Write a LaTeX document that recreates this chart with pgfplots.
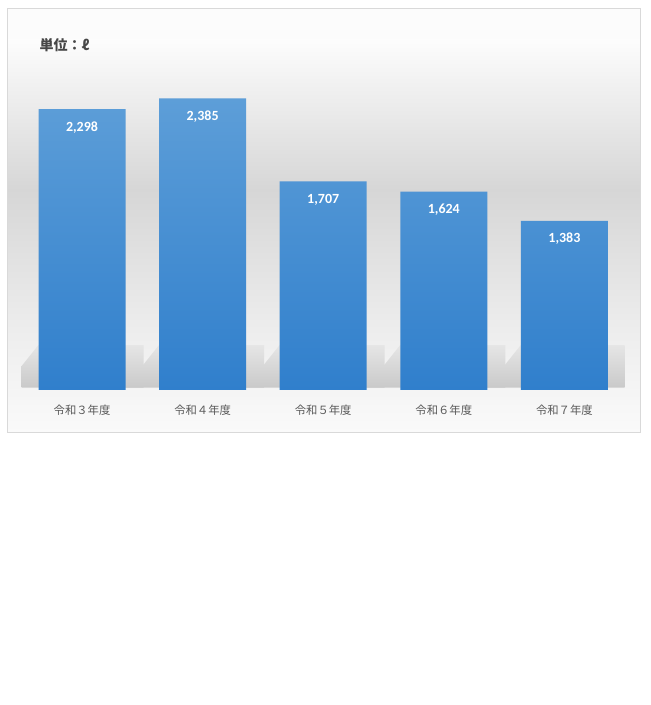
\documentclass[border=0pt]{standalone}
\usepackage{fontspec}
\setmainfont{Carlito}
\newfontfamily\jp{Noto Sans CJK JP}
\usepackage{pgfplots}
\pgfplotsset{compat=1.18}

\definecolor{bartop}{RGB}{93,158,216}
\definecolor{barbot}{RGB}{48,127,204}

\begin{document}
\begin{tikzpicture}[x=0.75pt,y=0.75pt]
\path[use as bounding box] (0,0) rectangle (650,705);
\fill[white] (0,0) rectangle (650,705);
% chart area background
\fill[white!99!black] (7,665) rectangle (640,697);
\shade[top color=white!99!black, bottom color=black!16] (7,515) rectangle (640,665);
\shade[top color=black!16, bottom color=black!7] (7,375) rectangle (640,515.2);
\shade[top color=black!7, bottom color=white!98!black] (7,273) rectangle (640,375.2);
\draw[black!15] (7,273) rectangle (640,697);
\coordinate (axorigin) at (21.7,315);

\begin{axis}[
    at={(axorigin)}, anchor=south west,
    scale only axis, width=452.25pt, height=247.5pt,
    xmin=-0.5, xmax=4.5, ymin=0, ymax=2700,
    axis line style={draw=none},
    ytick=\empty,
    xtick={0,1,2,3,4},
    xticklabels={令和３年度,令和４年度,令和５年度,令和６年度,令和７年度},
    major tick length=0pt,
    xticklabel style={anchor=center, yshift=-15pt, text=black!65,
        font=\jp\fontsize{8.5}{10}\selectfont},
    /pgf/number format/assume math mode=true,
  ]
  % shadows
  \addplot[draw=none, top color=black!10, bottom color=black!21, forget plot]
    coordinates {(-0.643,20) (0.51,20) (0.51,368) (-0.361,368)};
  \addplot[draw=none, top color=black!10, bottom color=black!21, forget plot]
    coordinates {(0.357,20) (1.51,20) (1.51,368) (0.639,368)};
  \addplot[draw=none, top color=black!10, bottom color=black!21, forget plot]
    coordinates {(1.357,20) (2.51,20) (2.51,368) (1.639,368)};
  \addplot[draw=none, top color=black!10, bottom color=black!21, forget plot]
    coordinates {(2.357,20) (3.51,20) (3.51,368) (2.639,368)};
  \addplot[draw=none, top color=black!10, bottom color=black!21, forget plot]
    coordinates {(3.357,20) (4.51,20) (4.51,368) (3.639,368)};
  % bars
  \addplot[ybar, bar width=65.25pt, draw=none,
      top color=bartop, bottom color=barbot,
      nodes near coords={\pgfmathprintnumber[1000 sep={,}]{\pgfplotspointmeta}},
      nodes near coords style={anchor=center, yshift=-13.5pt, text=white,
          font=\bfseries\fontsize{10.5}{12}\selectfont},
    ]
    coordinates {(0,2298) (1,2385) (2,1707) (3,1624) (4,1383)};
\end{axis}

\node[anchor=west, text=black!72, font=\jp\bfseries\fontsize{10.5}{12}\selectfont] at (35,660) {単位：ℓ};
\end{tikzpicture}
\end{document}
